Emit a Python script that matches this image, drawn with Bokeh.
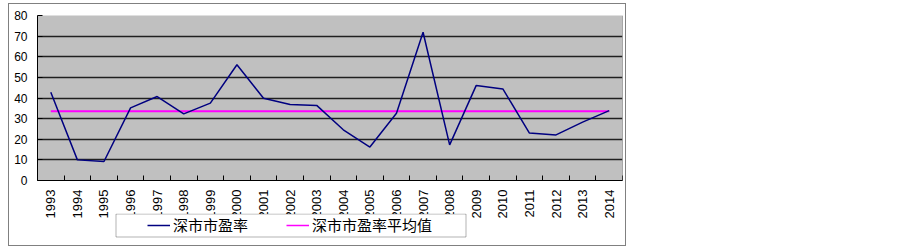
from bokeh.plotting import figure
from bokeh.layouts import column
from bokeh.models import Range1d, FixedTicker, Legend, LegendItem, BoxAnnotation, Span
from bokeh.embed import file_html
from bokeh.resources import INLINE

years = ["1993", "1994", "1995", "1996", "1997", "1998", "1999", "2000", "2001", "2002", "2003",
         "2004", "2005", "2006", "2007", "2008", "2009", "2010", "2011", "2012", "2013", "2014"]
pe_values = [42.8, 10.0, 9.2, 35.2, 40.7, 32.3, 37.5, 56.1, 39.9, 36.8, 36.4,
             24.6, 16.2, 32.6, 71.9, 17.3, 46.1, 44.4, 23.0, 22.1, 28.3, 33.9]
pe_mean = [33.6, 33.6, 33.6, 33.6, 33.6, 33.6, 33.6, 33.6, 33.6, 33.6, 33.6,
           33.6, 33.6, 33.6, 33.6, 33.6, 33.6, 33.6, 33.6, 33.6, 33.6, 33.6]
y_ticks = [0, 10, 20, 30, 40, 50, 60, 70, 80]
series_names = ["深市市盈率", "深市市盈率平均值"]
series_colors = ["#000080", "#FF00FF"]

xs = list(range(len(years)))
n = len(years)

# ---------------- main chart ----------------
p = figure(width=627, height=222, output_backend="svg", toolbar_location=None,
           x_range=Range1d(-0.5, n - 0.5), y_range=Range1d(0, 80))
p.min_border_left = 37
p.min_border_right = 5
p.min_border_top = 15
p.min_border_bottom = 42
p.background_fill_color = "#C0C0C0"
p.border_fill_color = None
p.outline_line_color = None

p.xgrid.visible = False
p.ygrid.ticker = FixedTicker(ticks=y_ticks[1:-1])
p.ygrid.grid_line_color = "#202020"
p.ygrid.grid_line_width = 1.5

p.yaxis.ticker = FixedTicker(ticks=y_ticks)
p.yaxis.major_tick_in = 5
p.yaxis.major_tick_out = 0
p.yaxis.minor_tick_line_color = None
p.yaxis.major_label_standoff = 10
p.yaxis.major_label_text_font = "Liberation Sans"
p.yaxis.major_label_text_font_size = "12px"
p.yaxis.major_label_text_color = "black"
p.yaxis.axis_line_color = "black"
p.yaxis.major_tick_line_color = "black"

bounds = [i - 0.5 for i in range(n + 1)]
p.xaxis.ticker = FixedTicker(ticks=xs, minor_ticks=bounds)
p.xaxis.major_label_overrides = {i: y for i, y in zip(xs, years)}
p.xaxis.major_tick_in = 0
p.xaxis.major_tick_out = 0
p.xaxis.minor_tick_in = 5
p.xaxis.minor_tick_out = 0
p.xaxis.minor_tick_line_color = "black"
p.xaxis.major_label_orientation = 3.14159265 / 2
p.xaxis.major_label_standoff = 9
p.xaxis.major_label_text_font = "Liberation Sans"
p.xaxis.major_label_text_font_size = "13px"
p.xaxis.major_label_text_color = "black"
p.xaxis.axis_line_color = "black"

p.add_layout(Span(location=n - 0.5, dimension="height", line_color="#707070", line_width=1))

p.line(xs, pe_mean, line_color=series_colors[1], line_width=2)
p.line(xs, pe_values, line_color=series_colors[0], line_width=1.5)

# ---------------- legend strip (frame aligned with the chart: x 37..622) ----------------
q = figure(width=627, height=33, output_backend="svg", toolbar_location=None,
           x_range=Range1d(37, 622), y_range=Range1d(33, 0),
           x_axis_location=None, y_axis_location=None)
q.min_border_left = 37
q.min_border_right = 5
q.min_border_top = 0
q.min_border_bottom = 0
q.background_fill_alpha = 0
q.border_fill_color = None
q.outline_line_color = None
q.grid.visible = False
q.margin = (-9, 0, 0, 0)

q.add_layout(BoxAnnotation(left=115.5, right=465.5, top=0.5, bottom=23.5,
                           fill_color="white", fill_alpha=1,
                           line_color="black", line_width=1))

# legend renderers: same series, lying outside this strip's visible x range
l1 = q.line(xs, pe_values, line_color=series_colors[0], line_width=1.5)
l2 = q.line(xs, pe_mean, line_color=series_colors[1], line_width=1.5)
legend = Legend(items=[LegendItem(label=series_names[0], renderers=[l1]),
                       LegendItem(label=series_names[1], renderers=[l2])],
                orientation="horizontal", location=(110, 11),
                glyph_width=23, glyph_height=20, label_height=20,
                label_standoff=3, spacing=38, padding=0, margin=0,
                border_line_color=None, background_fill_alpha=0,
                label_text_font="Noto Sans CJK SC", label_text_font_size="15px",
                label_text_color="black")
q.add_layout(legend)

frame_css = ("linear-gradient(#808080,#808080) 8px 3px/618px 1px no-repeat, "
             "linear-gradient(#808080,#808080) 8px 245px/618px 1px no-repeat, "
             "linear-gradient(#808080,#808080) 8px 3px/1px 243px no-repeat, "
             "linear-gradient(#808080,#808080) 625px 3px/1px 243px no-repeat, white")
layout = column(p, q, spacing=0, styles={"background": frame_css})

open("out.html", "w").write(file_html(layout, INLINE))
